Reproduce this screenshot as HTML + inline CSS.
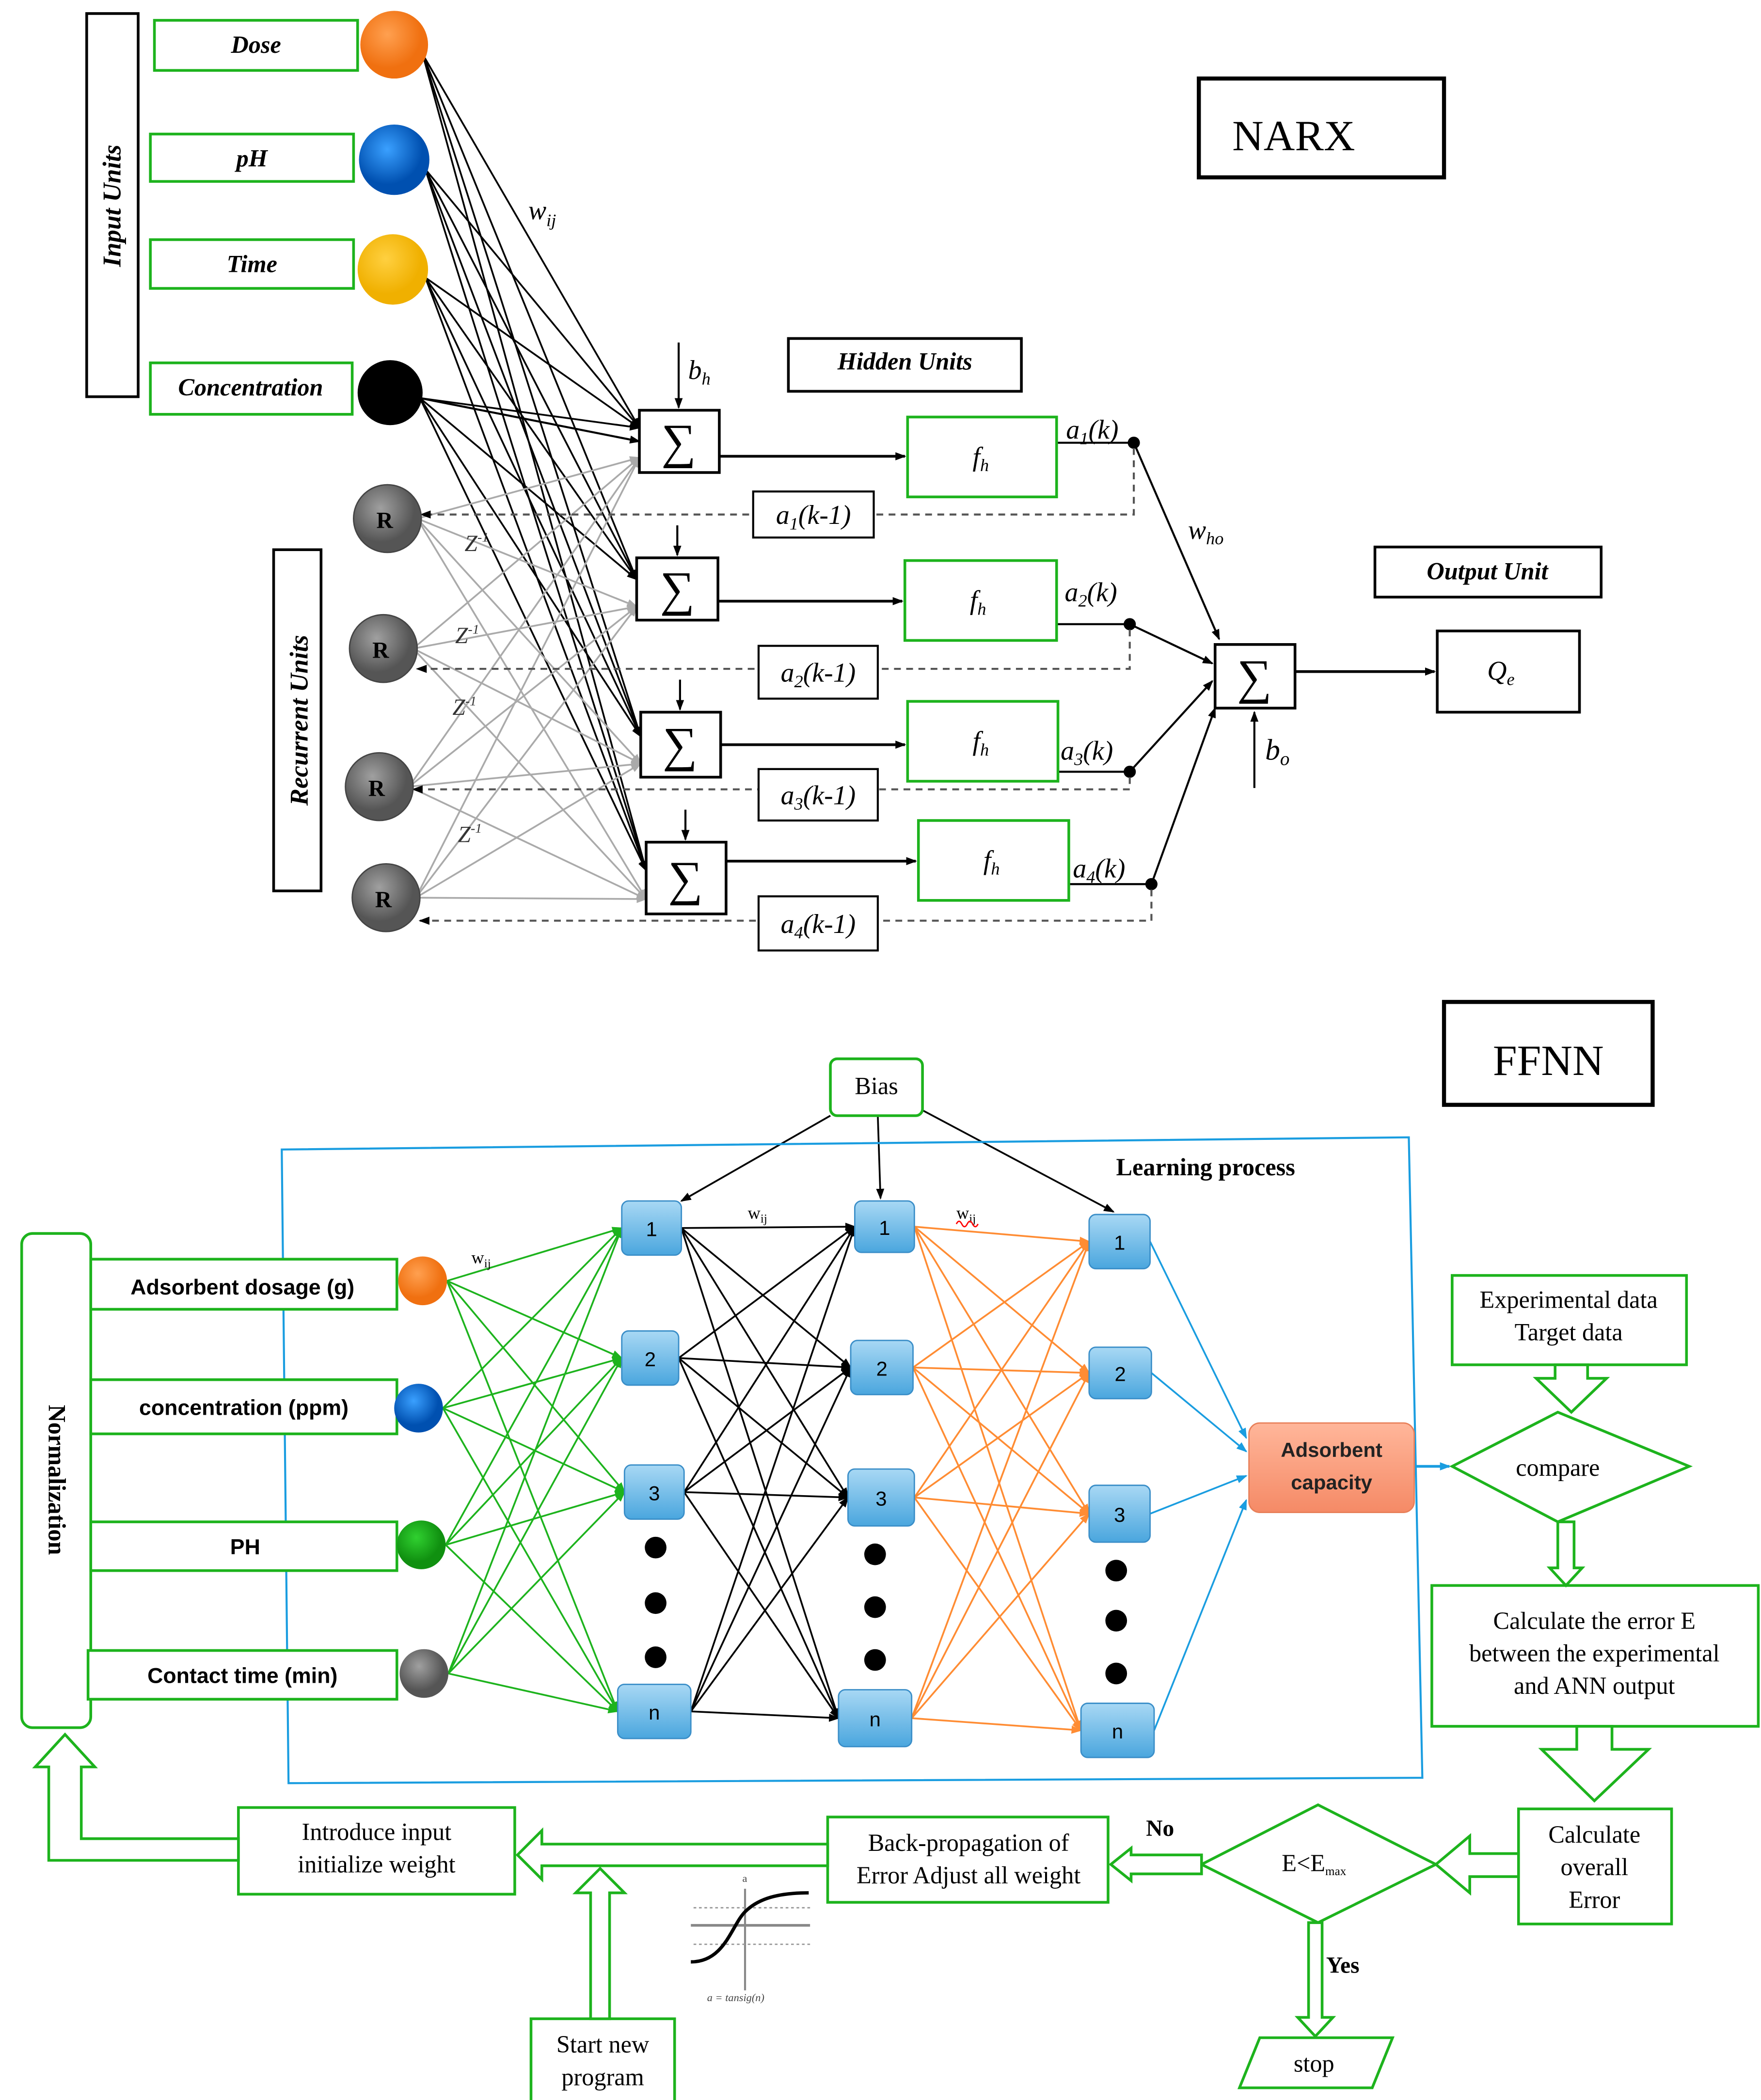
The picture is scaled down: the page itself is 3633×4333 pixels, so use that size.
<!DOCTYPE html>
<html><head><meta charset="utf-8">
<style>
html,body{margin:0;padding:0;background:#fff;}
svg{display:block;}
.serif{font-family:"Liberation Serif",serif;}
.sans{font-family:"Liberation Sans",sans-serif;}
</style></head>
<body>
<svg id="s" width="3633" height="4333" viewBox="0 0 1300 1551" preserveAspectRatio="none" xmlns="http://www.w3.org/2000/svg">
<defs>
<marker id="ab" markerWidth="8" markerHeight="8" refX="7" refY="4" orient="auto" markerUnits="userSpaceOnUse"><path d="M0,1 L8,4 L0,7 z" fill="#000"/></marker>
<marker id="ag" markerWidth="8" markerHeight="8" refX="7" refY="4" orient="auto" markerUnits="userSpaceOnUse"><path d="M0,1 L8,4 L0,7 z" fill="#aaa"/></marker>
<marker id="agr" markerWidth="8" markerHeight="8" refX="7" refY="4" orient="auto" markerUnits="userSpaceOnUse"><path d="M0,1 L8,4 L0,7 z" fill="#1db31d"/></marker>
<marker id="aor" markerWidth="8" markerHeight="8" refX="7" refY="4" orient="auto" markerUnits="userSpaceOnUse"><path d="M0,1 L8,4 L0,7 z" fill="#ff8c33"/></marker>
<marker id="abl" markerWidth="8" markerHeight="8" refX="7" refY="4" orient="auto" markerUnits="userSpaceOnUse"><path d="M0,1 L8,4 L0,7 z" fill="#1a9de0"/></marker>
<radialGradient id="gO" cx="40%" cy="35%"><stop offset="0" stop-color="#ffa050"/><stop offset="1" stop-color="#f07010"/></radialGradient>
<radialGradient id="gB" cx="40%" cy="35%"><stop offset="0" stop-color="#3aa0ff"/><stop offset="1" stop-color="#0050b0"/></radialGradient>
<radialGradient id="gY" cx="40%" cy="35%"><stop offset="0" stop-color="#ffd040"/><stop offset="1" stop-color="#f0b000"/></radialGradient>
<radialGradient id="gR" cx="40%" cy="35%"><stop offset="0" stop-color="#a0a0a0"/><stop offset="1" stop-color="#555"/></radialGradient>
<radialGradient id="gG" cx="40%" cy="35%"><stop offset="0" stop-color="#30d030"/><stop offset="1" stop-color="#109010"/></radialGradient>
<linearGradient id="nodeG" x1="0" y1="0" x2="0" y2="1"><stop offset="0" stop-color="#a8d8f4"/><stop offset="1" stop-color="#4aa6de"/></linearGradient>
<linearGradient id="adsG" x1="0" y1="0" x2="0" y2="1"><stop offset="0" stop-color="#ffb69a"/><stop offset="1" stop-color="#f58a66"/></linearGradient>
</defs>
<g id="lines"></g>

<!-- NARX -->
<rect x="64" y="10" width="38" height="283" fill="#fff" stroke="#000" stroke-width="2"/>
<text class="serif" font-style="italic" font-weight="bold" font-size="19" transform="translate(89,152) rotate(-90)" text-anchor="middle">Input Units</text>
<g class="serif" font-style="italic" font-weight="bold" font-size="18" text-anchor="middle" fill="#000">
<rect x="114" y="15" width="150" height="37" fill="#fff" stroke="#1db31d" stroke-width="2"/><text x="189" y="39">Dose</text>
<rect x="111" y="99" width="150" height="35" fill="#fff" stroke="#1db31d" stroke-width="2"/><text x="186" y="123">pH</text>
<rect x="111" y="177" width="150" height="36" fill="#fff" stroke="#1db31d" stroke-width="2"/><text x="186" y="201">Time</text>
<rect x="111" y="268" width="149" height="38" fill="#fff" stroke="#1db31d" stroke-width="2"/><text x="185" y="292">Concentration</text>
</g>
<circle cx="291" cy="33" r="25" fill="url(#gO)"/>
<circle cx="291" cy="118" r="26" fill="url(#gB)"/>
<circle cx="290" cy="199" r="26" fill="url(#gY)"/>
<circle cx="288" cy="290" r="24" fill="#000"/>
<g class="serif" font-weight="bold" font-size="17" text-anchor="middle">
<circle cx="286" cy="383" r="25" fill="url(#gR)" stroke="#444"/><text x="284" y="390">R</text>
<circle cx="283" cy="479" r="25" fill="url(#gR)" stroke="#444"/><text x="281" y="486">R</text>
<circle cx="280" cy="581" r="25" fill="url(#gR)" stroke="#444"/><text x="278" y="588">R</text>
<circle cx="285" cy="663" r="25" fill="url(#gR)" stroke="#444"/><text x="283" y="670">R</text>
</g>
<rect x="202" y="406" width="35" height="252" fill="#fff" stroke="#000" stroke-width="2"/>
<text class="serif" font-style="italic" font-weight="bold" font-size="19" transform="translate(227,532) rotate(-90)" text-anchor="middle">Recurrent Units</text>
<g class="serif" font-style="italic" font-size="17" fill="#333">
<text x="343" y="407">Z<tspan font-size="10" dy="-7">-1</tspan></text>
<text x="336" y="475">Z<tspan font-size="10" dy="-7">-1</tspan></text>
<text x="334" y="528">Z<tspan font-size="10" dy="-7">-1</tspan></text>
<text x="338" y="622">Z<tspan font-size="10" dy="-7">-1</tspan></text>
</g>
<text class="serif" font-style="italic" font-size="20" x="390" y="162">w<tspan font-size="13" dy="5">ij</tspan></text>

<g class="serif" font-size="36" text-anchor="middle">
<rect x="472" y="303" width="59" height="46" fill="#fff" stroke="#000" stroke-width="2"/><text x="501" y="338">∑</text>
<rect x="470" y="412" width="60" height="46" fill="#fff" stroke="#000" stroke-width="2"/><text x="500" y="447">∑</text>
<rect x="473" y="526" width="59" height="48" fill="#fff" stroke="#000" stroke-width="2"/><text x="502" y="562">∑</text>
<rect x="477" y="622" width="59" height="53" fill="#fff" stroke="#000" stroke-width="2"/><text x="506" y="661">∑</text>
<rect x="897" y="476" width="59" height="47" fill="#fff" stroke="#000" stroke-width="2"/><text x="926" y="512">∑</text>
</g>
<text class="serif" font-style="italic" font-size="20" x="508" y="280">b<tspan font-size="13" dy="4">h</tspan></text>
<text class="serif" font-style="italic" font-size="22" x="934" y="561">b<tspan font-size="14" dy="4">o</tspan></text>
<text class="serif" font-style="italic" font-size="20" x="877" y="398">w<tspan font-size="13" dy="4">ho</tspan></text>
<g class="serif" font-style="italic" font-size="20" text-anchor="middle">
<rect x="670" y="308" width="110" height="59" fill="#fff" stroke="#1db31d" stroke-width="2"/><text x="724" y="344">f<tspan font-size="13" dy="4">h</tspan></text>
<rect x="668" y="414" width="112" height="59" fill="#fff" stroke="#1db31d" stroke-width="2"/><text x="722" y="450">f<tspan font-size="13" dy="4">h</tspan></text>
<rect x="670" y="518" width="111" height="59" fill="#fff" stroke="#1db31d" stroke-width="2"/><text x="724" y="554">f<tspan font-size="13" dy="4">h</tspan></text>
<rect x="678" y="606" width="111" height="59" fill="#fff" stroke="#1db31d" stroke-width="2"/><text x="732" y="642">f<tspan font-size="13" dy="4">h</tspan></text>
</g>
<g class="serif" font-style="italic" font-size="20">
<text x="787" y="324">a<tspan font-size="13" dy="4">1</tspan><tspan dy="-4">(k)</tspan></text>
<text x="786" y="444">a<tspan font-size="13" dy="4">2</tspan><tspan dy="-4">(k)</tspan></text>
<text x="783" y="561">a<tspan font-size="13" dy="4">3</tspan><tspan dy="-4">(k)</tspan></text>
<text x="792" y="648">a<tspan font-size="13" dy="4">4</tspan><tspan dy="-4">(k)</tspan></text>
</g>
<g id="abox" class="serif" font-style="italic" font-size="20" text-anchor="middle"></g>
<rect x="582" y="250" width="172" height="39" fill="#fff" stroke="#000" stroke-width="2"/>
<text class="serif" font-style="italic" font-weight="bold" font-size="18" x="668" y="273" text-anchor="middle">Hidden Units</text>
<rect x="1015" y="404" width="167" height="37" fill="#fff" stroke="#000" stroke-width="2"/>
<text class="serif" font-style="italic" font-weight="bold" font-size="18" x="1098" y="428" text-anchor="middle">Output Unit</text>
<rect x="1061" y="466" width="105" height="60" fill="#fff" stroke="#000" stroke-width="2"/>
<text class="serif" font-style="italic" font-size="20" x="1108" y="502" text-anchor="middle">Q<tspan font-size="13" dy="4">e</tspan></text>
<rect x="885" y="58" width="181" height="73" fill="#fff" stroke="#000" stroke-width="3"/>
<text class="serif" font-size="32" x="955" y="111" text-anchor="middle">NARX</text>

<!-- FFNN -->
<rect x="1066" y="740" width="154" height="76" fill="#fff" stroke="#000" stroke-width="3"/>
<text class="serif" font-size="32" x="1143" y="794" text-anchor="middle">FFNN</text>
<polygon points="208,849 1040,840 1050,1313 213,1317" fill="none" stroke="#1a9de0" stroke-width="1.5"/>
<text class="serif" font-weight="bold" font-size="18" x="890" y="868" text-anchor="middle">Learning process</text>
<rect x="613" y="782" width="68" height="42" rx="5" fill="#fff" stroke="#1db31d" stroke-width="2"/>
<text class="serif" font-size="18" x="647" y="808" text-anchor="middle">Bias</text>
<rect x="16" y="911" width="51" height="365" rx="8" fill="#fff" stroke="#1db31d" stroke-width="2"/>
<text class="serif" font-weight="bold" font-size="18" transform="translate(36,1093) rotate(90)" text-anchor="middle">Normalization</text>
<g class="sans" font-weight="bold" font-size="16" text-anchor="middle">
<rect x="67" y="930" width="226" height="37" fill="#fff" stroke="#1db31d" stroke-width="2"/><text x="179" y="956">Adsorbent dosage (g)</text>
<rect x="67" y="1019" width="226" height="40" fill="#fff" stroke="#1db31d" stroke-width="2"/><text x="180" y="1045">concentration (ppm)</text>
<rect x="67" y="1124" width="226" height="36" fill="#fff" stroke="#1db31d" stroke-width="2"/><text x="181" y="1148">PH</text>
<rect x="65" y="1219" width="228" height="36" fill="#fff" stroke="#1db31d" stroke-width="2"/><text x="179" y="1243">Contact time (min)</text>
</g>
<circle cx="312" cy="946" r="18" fill="url(#gO)"/>
<circle cx="309" cy="1040" r="18" fill="url(#gB)"/>
<circle cx="311" cy="1141" r="18" fill="url(#gG)"/>
<circle cx="313" cy="1236" r="18" fill="url(#gR)"/>
<text class="serif" font-size="13" x="348" y="933">w<tspan font-size="9" dy="3">ij</tspan></text>
<text class="serif" font-size="13" x="552" y="900">w<tspan font-size="9" dy="3">ij</tspan></text>
<text class="serif" font-size="13" x="706" y="900" fill="#000">w<tspan font-size="9" dy="3">ij</tspan></text>
<path d="M706,904 q2,-4 4,0 q2,4 4,0 q2,-4 4,0 q2,4 4,0" fill="none" stroke="red" stroke-width="1"/>
<g id="nodes" class="sans" font-size="15" text-anchor="middle"></g>
<g fill="#000">
<circle cx="484" cy="1143" r="8"/><circle cx="484" cy="1184" r="8"/><circle cx="484" cy="1224" r="8"/>
<circle cx="646" cy="1148" r="8"/><circle cx="646" cy="1187" r="8"/><circle cx="646" cy="1226" r="8"/>
<circle cx="824" cy="1160" r="8"/><circle cx="824" cy="1197" r="8"/><circle cx="824" cy="1236" r="8"/>
</g>
<rect x="922" y="1051" width="122" height="66" rx="8" fill="url(#adsG)" stroke="#e8805a"/>
<text class="sans" font-weight="bold" font-size="15" fill="#222" text-anchor="middle" x="983" y="1076">Adsorbent</text>
<text class="sans" font-weight="bold" font-size="15" fill="#222" text-anchor="middle" x="983" y="1100">capacity</text>

<g class="serif" font-size="18" text-anchor="middle" fill="#000">
<rect x="1072" y="942" width="173" height="66" fill="#fff" stroke="#1db31d" stroke-width="2"/>
<text x="1158" y="966">Experimental data</text><text x="1158" y="990">Target data</text>
<polygon points="1072,1083 1150,1043 1247,1083 1150,1124" fill="#fff" stroke="#1db31d" stroke-width="2"/>
<text x="1150" y="1090">compare</text>
<rect x="1057" y="1171" width="241" height="104" fill="#fff" stroke="#1db31d" stroke-width="2"/>
<text x="1177" y="1203">Calculate the error E</text><text x="1177" y="1227">between the experimental</text><text x="1177" y="1251">and ANN output</text>
<rect x="1121" y="1336" width="113" height="85" fill="#fff" stroke="#1db31d" stroke-width="2"/>
<text x="1177" y="1361">Calculate</text><text x="1177" y="1385">overall</text><text x="1177" y="1409">Error</text>
<polygon points="887,1377 973,1333 1060,1377 973,1420" fill="#fff" stroke="#1db31d" stroke-width="2"/>
<text x="970" y="1382">E&lt;E<tspan font-size="9" dy="3">max</tspan></text>
<rect x="611" y="1342" width="207" height="63" fill="#fff" stroke="#1db31d" stroke-width="2"/>
<text x="715" y="1367">Back-propagation of</text><text x="715" y="1391">Error Adjust all weight</text>
<rect x="176" y="1335" width="204" height="64" fill="#fff" stroke="#1db31d" stroke-width="2"/>
<text x="278" y="1359">Introduce input</text><text x="278" y="1383">initialize weight</text>
<rect x="392" y="1491" width="106" height="61" fill="#fff" stroke="#1db31d" stroke-width="2"/>
<text x="445" y="1516">Start new</text><text x="445" y="1540">program</text>
<polygon points="930,1505 1028,1505 1013,1542 915,1542" fill="#fff" stroke="#1db31d" stroke-width="2"/>
<text x="970" y="1530">stop</text>
</g>
<text class="serif" font-weight="bold" font-size="17" x="846" y="1356">No</text>
<text class="serif" font-weight="bold" font-size="17" x="979" y="1457">Yes</text>

<g fill="#fff" stroke="#1db31d" stroke-width="2">
<polygon points="1148,1008 1148,1018 1134,1018 1160,1043 1186,1018 1172,1018 1172,1008"/>
<polygon points="1150,1124 1150,1158 1144,1158 1156,1171 1168,1158 1162,1158 1162,1124"/>
<polygon points="1164,1275 1164,1292 1138,1292 1177,1330 1217,1292 1190,1292 1190,1275"/>
<polygon points="1121,1369 1085,1369 1085,1356 1060,1377 1085,1398 1085,1386 1121,1386"/>
<polygon points="887,1370 835,1370 835,1365 820,1377 835,1389 835,1384 887,1384"/>
<polygon points="611,1362 400,1362 400,1352 382,1370 400,1388 400,1378 611,1378"/>
<polygon points="436,1491 436,1398 425,1398 443,1380 461,1398 450,1398 450,1491"/>
<polygon points="966,1420 966,1490 958,1490 971,1504 984,1490 976,1490 976,1420"/>
<polygon points="176,1358 60,1358 60,1305 70,1305 48,1281 26,1305 36,1305 36,1374 176,1374"/>
</g>

<g stroke-width="1">
<line x1="510" y1="1422" x2="598" y2="1422" stroke="#888" stroke-width="2"/>
<line x1="550" y1="1395" x2="550" y2="1470" stroke="#888" stroke-width="1.5"/>
<line x1="512" y1="1409" x2="598" y2="1409" stroke="#999" stroke-dasharray="2,2"/>
<line x1="512" y1="1436" x2="598" y2="1436" stroke="#999" stroke-dasharray="2,2"/>
<path d="M510,1449 C535,1449 540,1422 550,1412 C560,1402 575,1398 597,1398" fill="none" stroke="#000" stroke-width="2.5"/>
<text x="522" y="1478" class="serif" font-style="italic" font-size="8" fill="#444">a = tansig(n)</text>
<text x="548" y="1390" class="serif" font-size="8" fill="#444">a</text>
</g>
</svg>
<script>
var NS="http://www.w3.org/2000/svg",L=document.getElementById('lines');
function ln(x1,y1,x2,y2,c,w,m,d){var e=document.createElementNS(NS,'line');e.setAttribute('x1',x1);e.setAttribute('y1',y1);e.setAttribute('x2',x2);e.setAttribute('y2',y2);e.setAttribute('stroke',c);e.setAttribute('stroke-width',w);if(m)e.setAttribute('marker-end','url(#'+m+')');if(d)e.setAttribute('stroke-dasharray',d);L.appendChild(e);}
function pl(pts,c,w,m,d){var e=document.createElementNS(NS,'polyline');e.setAttribute('points',pts);e.setAttribute('fill','none');e.setAttribute('stroke',c);e.setAttribute('stroke-width',w);if(m)e.setAttribute('marker-end','url(#'+m+')');if(d)e.setAttribute('stroke-dasharray',d);L.appendChild(e);}
var ins=[[312,40],[314,125],[314,205],[310,294]];
var sig=[[472,316],[470,426],[473,540],[477,637]];
var sigB=[[472,338],[470,448],[473,564],[477,664]];
ins.forEach(function(p){sig.forEach(function(s,j){ln(p[0],p[1],s[0],s[1]+j*2,'#000',1.3,'ab');});});
var rs=[[308,383],[305,479],[302,581],[307,663]];
rs.forEach(function(p){sigB.forEach(function(s){ln(p[0],p[1],s[0],s[1],'#aaa',1.3,'ag');});});
ln(310,294,472,326,'#000',1.5,'ab');
ln(501,253,501,301,'#000',1.5,'ab');ln(500,388,500,410,'#000',1.5,'ab');ln(502,502,502,524,'#000',1.5,'ab');ln(506,598,506,620,'#000',1.5,'ab');
var sr=[[531,337,670],[530,444,668],[532,550,670],[536,636,678]];
sr.forEach(function(s){ln(s[0],s[1],s[2]-2,s[1],'#000',2,'ab');});
var dots=[[837,327,780,380,311],[834,461,780,494,308],[834,570,781,583,305],[850,653,789,680,310]];
dots.forEach(function(d){ln(d[2],d[1],d[0],d[1],'#000',1.5);var c=document.createElementNS(NS,'circle');c.setAttribute('cx',d[0]);c.setAttribute('cy',d[1]);c.setAttribute('r',4.5);L.appendChild(c);pl(d[0]+','+(d[1]+4)+' '+d[0]+','+d[3]+' '+d[4]+','+d[3],'#555',1.5,'ab','5,4');});
var A=document.getElementById('abox');
[[556,363,89,34,'1'],[560,477,88,39,'2'],[560,568,88,38,'3'],[560,662,88,40,'4']].forEach(function(b){var r=document.createElementNS(NS,'rect');r.setAttribute('x',b[0]);r.setAttribute('y',b[1]);r.setAttribute('width',b[2]);r.setAttribute('height',b[3]);r.setAttribute('fill','#fff');r.setAttribute('stroke','#000');r.setAttribute('stroke-width','1.5');A.appendChild(r);var t=document.createElementNS(NS,'text');t.setAttribute('x',b[0]+b[2]/2);t.setAttribute('y',b[1]+b[3]/2+7);t.innerHTML='a<tspan font-size="13" dy="4">'+b[4]+'</tspan><tspan dy="-4">(k-1)</tspan>';A.appendChild(t);});
ln(837,327,900,472,'#000',1.5,'ab');ln(834,461,895,490,'#000',1.5,'ab');ln(834,570,895,503,'#000',1.5,'ab');ln(850,653,897,523,'#000',1.5,'ab');
ln(956,496,1059,496,'#000',2,'ab');ln(926,582,926,526,'#000',1.5,'ab');
var l1=[[459,887,44,40,'1'],[459,983,42,40,'2'],[461,1082,44,40,'3'],[456,1244,54,40,'n']];
var l2=[[631,887,44,38,'1'],[628,990,46,40,'2'],[626,1085,49,42,'3'],[619,1248,54,42,'n']];
var l3=[[804,897,45,40,'1'],[804,995,46,38,'2'],[804,1097,45,42,'3'],[798,1258,54,40,'n']];
var N=document.getElementById('nodes');
[l1,l2,l3].forEach(function(l){l.forEach(function(n){var r=document.createElementNS(NS,'rect');r.setAttribute('x',n[0]);r.setAttribute('y',n[1]);r.setAttribute('width',n[2]);r.setAttribute('height',n[3]);r.setAttribute('rx',5);r.setAttribute('fill','url(#nodeG)');r.setAttribute('stroke','#3a8ec8');N.appendChild(r);var t=document.createElementNS(NS,'text');t.setAttribute('x',n[0]+n[2]/2);t.setAttribute('y',n[1]+n[3]/2+6);t.textContent=n[4];N.appendChild(t);});});
var fc=[[330,946],[327,1040],[329,1141],[331,1236]];
fc.forEach(function(p){l1.forEach(function(n){ln(p[0],p[1],n[0],n[1]+n[3]/2,'#1db31d',1.3,'agr');});});
l1.forEach(function(a){l2.forEach(function(b){ln(a[0]+a[2],a[1]+a[3]/2,b[0],b[1]+b[3]/2,'#000',1.3,'ab');});});
l2.forEach(function(a){l3.forEach(function(b){ln(a[0]+a[2],a[1]+a[3]/2,b[0],b[1]+b[3]/2,'#ff8c33',1.3,'aor');});});
l3.forEach(function(a,i){var ty=[1062,1072,1090,1108][i];ln(a[0]+a[2],a[1]+a[3]/2,920,ty,'#1a9de0',1.3,'abl');});
ln(613,824,503,887,'#000',1.3,'ab');ln(648,824,650,885,'#000',1.3,'ab');ln(681,820,822,895,'#000',1.3,'ab');
ln(1044,1083,1070,1083,'#1a9de0',2,'abl');
</script>
</body></html>
